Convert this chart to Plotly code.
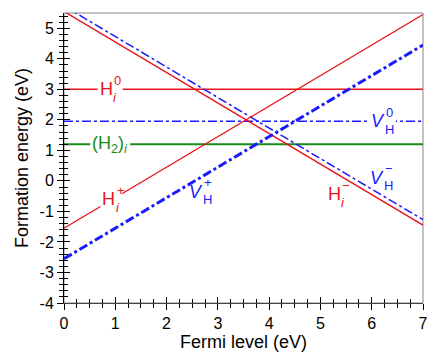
import plotly.graph_objects as go

# Fermi level end points (eV) and formation energies (eV) at those points
fermi = [0, 7]
h_plus = [-1.55, 5.45]
h_zero = [3.0, 3.0]
h_minus = [5.55, -1.45]
h2_i = [1.2, 1.2]
vh_plus = [-2.55, 4.45]
vh_zero = [1.95, 1.95]
vh_minus = [5.73, -1.27]

x_ticks = [0, 1, 2, 3, 4, 5, 6, 7]
y_ticks = [-4, -3, -2, -1, 0, 1, 2, 3, 4, 5]
y_ticktext = [str(v) for v in y_ticks]  # plain hyphen, not unicode minus

RED = "#e8141c"
GREEN = "#1a8a1a"
BLUE = "#1a1aff"
FONT = "Liberation Sans, Arial, sans-serif"

fig = go.Figure()
fig.add_trace(go.Scatter(x=fermi, y=h_zero, mode="lines", line=dict(color=RED, width=1.6)))
fig.add_trace(go.Scatter(x=fermi, y=h2_i, mode="lines", line=dict(color=GREEN, width=2)))
fig.add_trace(go.Scatter(x=fermi, y=vh_zero, mode="lines", line=dict(color=BLUE, width=1.5, dash="dashdot")))
fig.add_trace(go.Scatter(x=fermi, y=vh_minus, mode="lines", line=dict(color=BLUE, width=1.5, dash="dashdot")))
fig.add_trace(go.Scatter(x=fermi, y=h_minus, mode="lines", line=dict(color=RED, width=1.4)))
fig.add_trace(go.Scatter(x=fermi, y=h_plus, mode="lines", line=dict(color=RED, width=1.2)))
fig.add_trace(go.Scatter(x=fermi, y=vh_plus, mode="lines", line=dict(color=BLUE, width=3, dash="dashdot")))
# dummy trace so the overlay axes (inside ticks) are drawn
fig.add_trace(go.Scatter(x=[None], y=[None], xaxis="x2", yaxis="y2", mode="lines"))

shapes = [dict(type="rect", xref="paper", yref="paper", x0=0, y0=0, x1=1, y1=1,
               line=dict(color="#888", width=1), layer="below")]


def gap(x, y, w, h=16):
    # white patch (pixel sized) that breaks the line behind a label
    shapes.append(dict(type="rect", xref="x", yref="y", layer="above",
                       xsizemode="pixel", ysizemode="pixel", xanchor=x, yanchor=y,
                       x0=-w / 2, x1=w / 2, y0=-h / 2, y1=h / 2,
                       fillcolor="white", line=dict(width=0)))


def label(x, y, base, sup, sub, color, size=18, dx=6):
    fig.add_annotation(x=x, y=y, text=base, showarrow=False, xanchor="center", yanchor="middle",
                       font=dict(size=size, color=color, family=FONT))
    if sup:
        fig.add_annotation(x=x, y=y, text=sup, showarrow=False, xanchor="left", yanchor="middle",
                           xshift=dx, yshift=9, font=dict(size=13, color=color, family=FONT))
    if sub:
        fig.add_annotation(x=x, y=y, text=sub, showarrow=False, xanchor="left", yanchor="middle",
                           xshift=dx - 1, yshift=-8, font=dict(size=13, color=color, family=FONT))


gap(0.9, 3.0, 25)
label(0.82, 3.0, "H", "0", "<i>i</i>", RED)
gap(0.9, 1.2, 40)
fig.add_annotation(x=0.9, y=1.2, text="(H<sub>2</sub>)<sub><i>i</i></sub>", showarrow=False,
                   font=dict(size=18, color=GREEN, family=FONT))
gap(6.19, 1.95, 29)
label(6.12, 1.95, "<i>V</i>", "0", "H", BLUE)
gap(0.92, -0.62, 22, 14)
label(0.87, -0.6, "H", "+", "<i>i</i>", RED)
label(2.57, -0.36, "<i>V</i>", "+", "H", BLUE)
label(6.11, 0.11, "<i>V</i>", "\u2212", "H", BLUE)
label(5.27, -0.43, "H", "\u2212", "<i>i</i>", RED)

axis_common = dict(ticks="outside", ticklen=6, tickwidth=1, tickcolor="black",
                   showgrid=False, zeroline=False, showline=True, linewidth=1,
                   automargin=False,
                   tickfont=dict(size=16, color="black", family=FONT))

fig.update_layout(
    width=443, height=360,
    margin=dict(l=64, r=20, t=13, b=57),
    paper_bgcolor="white", plot_bgcolor="white",
    showlegend=False,
    font=dict(family=FONT, color="black"),
    xaxis=dict(range=[0, 7], tickvals=x_ticks, linecolor="#444",
               minor=dict(dtick=0.25, ticks="outside", ticklen=4, tickcolor="black"),
               title=dict(text="Fermi level (eV)", font=dict(size=18), standoff=4),
               **axis_common),
    yaxis=dict(range=[-4, 5.5], tickvals=y_ticks, ticktext=y_ticktext, linecolor="black",
               minor=dict(dtick=0.2, ticks="outside", ticklen=4, tickcolor="black"),
               title=dict(text="Formation energy (eV)", font=dict(size=18), standoff=6),
               **axis_common),
    xaxis2=dict(range=[0, 7], overlaying="x", anchor="y", side="bottom", tickvals=x_ticks,
                ticks="inside", ticklen=6, tickcolor="black", showticklabels=False,
                showgrid=False, zeroline=False,
                minor=dict(dtick=0.25, ticks="inside", ticklen=4, tickcolor="black")),
    yaxis2=dict(range=[-4, 5.5], overlaying="y", anchor="x", side="left", tickvals=y_ticks,
                ticks="inside", ticklen=6, tickcolor="black", showticklabels=False,
                showgrid=False, zeroline=False,
                minor=dict(dtick=0.2, ticks="inside", ticklen=4, tickcolor="black")),
    shapes=shapes,
)

fig.write_html("out.html", config={"displayModeBar": False},
               post_script="document.body.style.margin='0';")
